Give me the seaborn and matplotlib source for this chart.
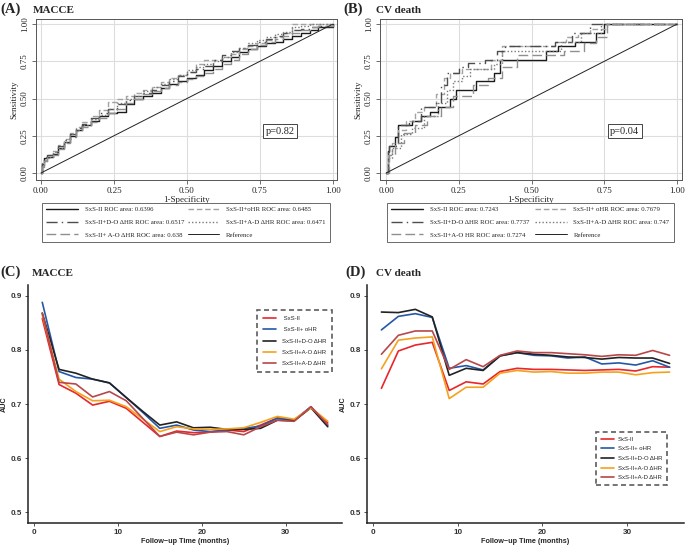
"""
ROC curves (A, B) and time-dependent AUC (C, D) for SxS-II models.
"""

import matplotlib

matplotlib.use("Agg")
import matplotlib.pyplot as plt
import pandas as pd
import seaborn as sns

SERIF = "Liberation Serif"
SANS = "Liberation Sans"

# ---- ROC data, panel A (MACCE) ----
fpr_a = [0, .005, .01, .02, .04, .06, .08, .10, .12, .14, .17, .20, .23, .26,
         .29, .32, .35, .38, .41, .44, .47, .50, .53, .56, .59, .62, .65, .68,
         .71, .74, .77, .80, .83, .86, .89, .92, .95, 1.0]
tpr_a_sxs = [0, .06, .10, .11, .13, .17, .21, .25, .29, .32, .35, .38, .40, .41,
             .46, .50, .52, .54, .57, .60, .62, .64, .66, .69, .72, .75, .78, .81,
             .83, .85, .87, .88, .90, .92, .94, .96, .98, 1.0]
tpr_a_ohr = [0, .05, .09, .12, .15, .19, .23, .27, .31, .34, .38, .42, .48, .50,
             .52, .54, .56, .58, .61, .64, .66, .68, .73, .76, .76, .78, .80, .83,
             .85, .87, .89, .91, .94, 1.0, 1.0, 1.0, 1.0, 1.0]
tpr_a_do = [0, .07, .11, .12, .14, .18, .22, .26, .30, .33, .37, .40, .43, .46,
            .49, .52, .54, .56, .59, .62, .65, .68, .70, .72, .76, .79, .82, .84,
            .86, .88, .90, .92, .94, .96, .97, .98, .99, 1.0]
tpr_a_ad = [0, .05, .08, .11, .14, .17, .21, .26, .29, .32, .36, .39, .43, .47,
            .50, .52, .55, .58, .60, .63, .66, .69, .71, .73, .75, .78, .81, .84,
            .87, .89, .91, .93, .95, .98, .99, 1.0, 1.0, 1.0]
tpr_a_ao = [0, .04, .08, .10, .12, .16, .20, .24, .28, .31, .34, .37, .40, .43,
            .47, .50, .53, .55, .57, .59, .61, .63, .65, .67, .70, .73, .76, .80,
            .83, .86, .88, .90, .92, .94, .96, .98, .99, 1.0]

# ---- ROC data, panel B (CV death) ----
fpr_b_sxs = [0, .005, .01, .03, .04, .09, .12, .15, .18, .22, .24, .31, .37, .39, .55, .59, .65, .72, .75, 1.0]
tpr_b_sxs = [0, .15, .18, .24, .32, .35, .38, .41, .44, .50, .56, .62, .67, .76, .82, .85, .88, .94, 1.0, 1.0]
fpr_b_ohr = [0, .005, .02, .04, .07, .10, .13, .17, .20, .22, .26, .36, .40, .58, .62, .66, .70, .76, 1.0]
tpr_b_ohr = [0, .12, .20, .29, .35, .41, .44, .53, .64, .67, .70, .76, .85, .88, .91, .94, .97, 1.0, 1.0]
fpr_b_do = [0, .005, .01, .04, .08, .12, .17, .19, .21, .25, .28, .34, .38, .41, .58, .64, .70, 1.0]
tpr_b_do = [0, .14, .18, .32, .35, .44, .47, .59, .67, .71, .74, .76, .82, .85, .88, .94, 1.0, 1.0]
fpr_b_ad = [0, .005, .02, .05, .09, .13, .18, .21, .23, .26, .29, .37, .40, .47, .60, .67, .74, 1.0]
tpr_b_ad = [0, .10, .17, .26, .30, .38, .47, .56, .62, .65, .70, .73, .82, .82, .88, .94, 1.0, 1.0]
fpr_b_ao = [0, .01, .03, .06, .10, .14, .19, .23, .30, .35, .40, .45, .61, .68, .72, .76, 1.0]
tpr_b_ao = [0, .12, .20, .27, .32, .38, .44, .52, .59, .64, .71, .79, .82, .87, .91, 1.0, 1.0]

labels_a = ["SxS-II ROC area: 0.6396", "SxS-II+oHR ROC area: 0.6485",
            "SxS-II+D-O \u0394HR ROC area: 0.6517", "SxS-II+A-D \u0394HR ROC area: 0.6471",
            "SxS-II+ A-O \u0394HR ROC area: 0.638"]
labels_b = ["SxS-II ROC area: 0.7243", "SxS-II+ oHR ROC area: 0.7679",
            "SxS-II+D-O \u0394HR ROC area: 0.7737", "SxS-II+A-D \u0394HR ROC area: 0.747",
            "SxS-II+A-O HR ROC area: 0.7274"]

# ---- time-dependent AUC ----
months = [1, 3, 5, 7, 9, 11, 13, 15, 17, 19, 21, 23, 25, 27, 29, 31, 33, 35]
models = ["SxS-II", "SxS-II+ oHR", "SxS-II+D-O \u0394HR", "SxS-II+A-O \u0394HR", "SxS-II+A-D \u0394HR"]

auc_c_sxs = [.858, .736, .720, .698, .705, .692, .666, .640, .650, .647, .648, .652, .649, .661, .674, .670, .694, .665]
auc_c_ohr = [.888, .760, .749, .746, .739, .712, .684, .655, .661, .652, .649, .652, .655, .659, .674, .670, .695, .660]
auc_c_do = [.868, .764, .757, .746, .739, .712, .686, .661, .667, .656, .657, .653, .653, .655, .670, .669, .693, .658]
auc_c_ao = [.865, .746, .723, .706, .707, .695, .672, .649, .658, .654, .653, .654, .656, .666, .677, .672, .693, .668]
auc_c_ad = [.868, .740, .737, .713, .723, .706, .673, .640, .648, .643, .648, .649, .643, .658, .670, .668, .695, .662]

auc_d_sxs = [.729, .798, .809, .814, .725, .741, .737, .760, .766, .764, .764, .763, .762, .763, .764, .761, .769, .768]
auc_d_ohr = [.837, .862, .867, .860, .766, .771, .763, .789, .795, .790, .789, .785, .787, .774, .776, .772, .780, .768]
auc_d_do = [.870, .869, .875, .861, .753, .766, .762, .789, .795, .792, .790, .787, .786, .783, .786, .785, .785, .775]
auc_d_ao = [.765, .818, .822, .824, .710, .731, .731, .757, .762, .759, .760, .757, .757, .759, .759, .754, .758, .759]
auc_d_ad = [.792, .827, .835, .835, .764, .782, .769, .790, .798, .795, .795, .793, .791, .788, .791, .790, .799, .790]

legend_c = [" SxS-II", " SxS-II+ oHR", "SxS-II+D-O \u0394HR", "SxS-II+A-O \u0394HR", "SxS-II+A-D \u0394HR"]
legend_d = ["SxS-II", "SxS-II+ oHR", "SxS-II+D-O \u0394HR", "SxS-II+A-O \u0394HR", "SxS-II+A-D \u0394HR"]

palette = ["#e8262b", "#2457a8", "#222222", "#f5a11c", "#b8474a"]
roc_colors = ["#1a1a1a", "#a3a3a3", "#4d4d4d", "#7a7a7a", "#8f8f8f"]
roc_styles = ["-", (0, (4, 2)), (0, (8, 3, 1, 3)), (0, (1, 1.5)), (0, (7, 3))]

sns.set_theme(style="white")
plt.rcParams["font.family"] = [SERIF, "DejaVu Serif"]

fig = plt.figure(figsize=(6.85, 5.45), dpi=100)


def roc_panel(rect, curves, labels, pval, legend_rect, xlim):
    ax = fig.add_axes(rect)
    for (fx, ty), col, ls in zip(curves, roc_colors, roc_styles):
        sns.lineplot(x=fx, y=ty, ax=ax, color=col, linestyle=ls, linewidth=1.0,
                     drawstyle="steps-post", estimator=None, sort=False)
    sns.lineplot(x=[0, 1], y=[0, 1], ax=ax, color="#222222", linewidth=0.7,
                 estimator=None)
    ax.set_xlim(*xlim)
    ax.set_ylim(-0.047, 1.034)
    ticks = [0, .25, .5, .75, 1.0]
    ax.set_xticks(ticks)
    ax.set_yticks(ticks)
    ax.set_xticklabels(["0.00", "0.25", "0.50", "0.75", "1.00"], fontsize=6.5)
    ax.set_yticklabels(["0.00", "0.25", "0.50", "0.75", "1.00"], fontsize=6.5,
                       rotation=90, va="center")
    ax.grid(True, color="#dddddd", linewidth=0.8)
    ax.tick_params(length=3, width=0.6, color="#555555", pad=2, left=True, bottom=True)
    for s in ax.spines.values():
        s.set_color("#555555")
        s.set_linewidth(0.7)
    ax.set_xlabel("1-Specificity", fontsize=6.5, labelpad=1)
    ax.set_ylabel("Sensitivity", fontsize=6.5, labelpad=2)
    ax.text(0.82, 0.28, pval, fontsize=7.5, ha="center", va="center",
            bbox=dict(boxstyle="square,pad=0.25", fc="white", ec="#444444", lw=0.7))
    handles = ax.get_lines()
    order = [0, 2, 4, 1, 3, 5]
    all_labels = labels + ["Reference"]
    leg = fig.legend([handles[i] for i in order], [all_labels[i] for i in order],
                     loc="lower left", bbox_to_anchor=legend_rect, mode="expand",
                     ncol=2, fontsize=4.9, handlelength=4.6, frameon=True,
                     fancybox=False, borderpad=0.6, labelspacing=1.0,
                     columnspacing=1.8, handletextpad=1.0)
    leg.get_frame().set_edgecolor("#444444")
    leg.get_frame().set_linewidth(0.7)
    return ax


roc_panel([36 / 685, 1 - 180 / 545, 301 / 685, 161 / 545],
          [(fpr_a, tpr_a_sxs), (fpr_a, tpr_a_ohr), (fpr_a, tpr_a_do),
           (fpr_a, tpr_a_ad), (fpr_a, tpr_a_ao)],
          labels_a, "p=0.82", (39 / 685, 1 - 245 / 545, 294 / 685, 37 / 545),
          (-0.017, 1.014))
roc_panel([380 / 685, 1 - 180 / 545, 302 / 685, 161 / 545],
          [(fpr_b_sxs, tpr_b_sxs), (fpr_b_ohr, tpr_b_ohr), (fpr_b_do, tpr_b_do),
           (fpr_b_ad, tpr_b_ad), (fpr_b_ao, tpr_b_ao)],
          labels_b, "p=0.04", (384 / 685, 1 - 245 / 545, 293 / 685, 37 / 545),
          (-0.021, 1.017))


def auc_panel(rect, series, leg_labels, leg_center, leg_spacing, leg_pad, text_pad):
    ax = fig.add_axes(rect)
    df = pd.DataFrame({
        "month": months * len(models),
        "auc": [v for s in series for v in s],
        "model": [m for m in models for _ in months],
    })
    sns.lineplot(data=df, x="month", y="auc", hue="model", hue_order=models,
                 palette=palette, linewidth=1.2, ax=ax, estimator=None)
    ax.set_xlim(-0.7, 36.7)
    ax.set_ylim(0.48, 0.92)
    ax.set_xticks([0, 10, 20, 30])
    ax.set_yticks([0.5, 0.6, 0.7, 0.8, 0.9])
    ax.tick_params(labelsize=5.8, length=2.5, width=0.6, color="#333333",
                   labelcolor="#333333", pad=2, left=True, bottom=True)
    for lab in ax.get_xticklabels() + ax.get_yticklabels():
        lab.set_family([SANS, "DejaVu Sans"])
        lab.set_fontweight("bold")
    sns.despine(ax=ax)
    for s in ("left", "bottom"):
        ax.spines[s].set_color("#222222")
        ax.spines[s].set_linewidth(1.1)
    ax.set_xlabel("Follow\u2212up Time (months)", fontsize=5.2, fontweight="bold",
                  family=[SANS, "DejaVu Sans"], labelpad=1.5)
    ax.set_ylabel("AUC", fontsize=5.2, fontweight="bold",
                  family=[SANS, "DejaVu Sans"], labelpad=2)
    handles, _ = ax.get_legend_handles_labels()
    leg = fig.legend(handles, leg_labels, loc="center", bbox_to_anchor=leg_center,
                     handlelength=2.2, frameon=True, fancybox=False,
                     borderpad=leg_pad, labelspacing=leg_spacing,
                     handletextpad=text_pad,
                     prop={"family": [SANS, "DejaVu Sans"], "size": 4.3})
    ax.get_legend().remove()
    fr = leg.get_frame()
    fr.set_edgecolor("#333333")
    fr.set_linestyle((0, (3, 2)))
    fr.set_linewidth(1.2)
    return ax


auc_panel([28 / 685, 1 - 523 / 545, 314 / 685, 238 / 545],
          [auc_c_sxs, auc_c_ohr, auc_c_do, auc_c_ao, auc_c_ad],
          legend_c, (294.5 / 685, 1 - 341 / 545), 1.0, 1.0, 0.9)
auc_panel([367 / 685, 1 - 523 / 545, 317 / 685, 238 / 545],
          [auc_d_sxs, auc_d_ohr, auc_d_do, auc_d_ao, auc_d_ad],
          legend_d, (631.5 / 685, 1 - 458.5 / 545), 0.75, 0.8, 0.7)

# panel titles
for x_letter, x_word, y, letter, word in [
    (0, 33, 13, "(A)", "MACCE"), (343, 376, 13, "(B)", "CV death"),
    (0, 32, 276, "(C)", "MACCE"), (345, 376, 276, "(D)", "CV death")]:
    fig.text(x_letter / 685, 1 - y / 545, letter, fontsize=10.5, fontweight="bold",
             va="baseline")
    fig.text(x_word / 685, 1 - y / 545, word, fontsize=8, fontweight="bold",
             va="baseline")

fig.savefig("out.png", dpi=100)
